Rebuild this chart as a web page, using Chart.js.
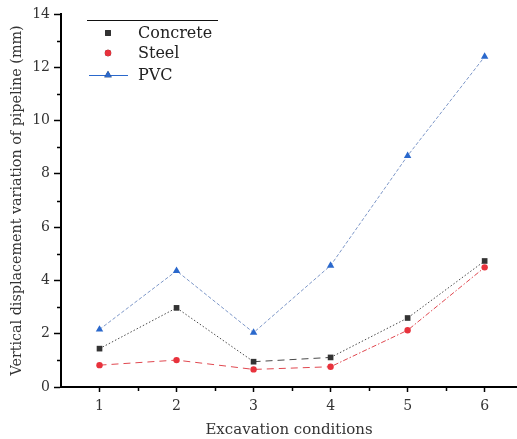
<!DOCTYPE html>
<html>
<head>
<meta charset="utf-8">
<script src="https://cdn.jsdelivr.net/npm/chart.js@4.4.1/dist/chart.umd.min.js"></script>
<style>
  html, body { margin: 0; padding: 0; background: #fff; }
  #wrap { width: 517px; height: 439px; position: relative; }
</style>
</head>
<body>
<div id="wrap"><canvas id="c"></canvas></div>
<script>
// Excavation stages and measured vertical displacement (mm) per pipe material
const conditions = [1, 2, 3, 4, 5, 6];
const concrete = [1.44, 2.97, 0.95, 1.11, 2.59, 4.73];
const steel    = [0.82, 1.01, 0.66, 0.76, 2.13, 4.49];
const pvc      = [2.16, 4.36, 2.04, 4.56, 8.68, 12.40];
const yTickValues = [0, 2, 4, 6, 8, 10, 12, 14];
const seriesNames = ['Concrete', 'Steel', 'PVC'];

const SERIF = '"DejaVu Serif", "Liberation Serif", serif';
const DOTS = [1.5, 2];
const DASHES = [7, 5];

const toPoints = vals => vals.map((v, i) => ({ x: conditions[i], y: v }));

// Short minor ticks halfway between the labelled ones
const minorTicks = {
  id: 'minorTicks',
  afterDraw(chart) {
    const { ctx, scales: { x, y } } = chart;
    ctx.save();
    ctx.strokeStyle = '#000';
    ctx.lineWidth = 1.5;
    ctx.beginPath();
    for (let v = 1; v < 14; v += 2) {
      const py = Math.round(y.getPixelForValue(v)) + 0.5;
      ctx.moveTo(x.left - 4, py); ctx.lineTo(x.left, py);
    }
    for (let v = 1.5; v < x.max; v += 1) {
      const px = Math.round(x.getPixelForValue(v)) + 0.5;
      ctx.moveTo(px, y.bottom); ctx.lineTo(px, y.bottom + 4);
    }
    ctx.stroke();
    ctx.restore();
  }
};

// Legend block in the upper-left of the plot
const insetLegend = {
  id: 'insetLegend',
  afterDraw(chart) {
    const { ctx } = chart;
    const x0 = 87, x1 = 218, top = 20;
    ctx.save();
    ctx.strokeStyle = '#111';
    ctx.lineWidth = 1;
    ctx.beginPath();
    ctx.moveTo(x0, top + 0.5); ctx.lineTo(x1, top + 0.5);
    ctx.stroke();
    const rows = [33, 53, 75];
    chart.data.datasets.forEach((ds, i) => {
      const cy = rows[i];
      const mx = 108;
      if (i === 2) {
        ctx.strokeStyle = ds.pointBackgroundColor;
        ctx.lineWidth = 1.2;
        ctx.setLineDash([]);
        ctx.beginPath();
        ctx.moveTo(89, cy + 0.5); ctx.lineTo(128, cy + 0.5);
        ctx.stroke();
      }
      Chart.helpers.drawPoint(ctx, {
        pointStyle: ds.pointStyle,
        radius: ds.pointRadius,
        rotation: 0,
        borderWidth: 0
      }, mx, cy);
      ctx.fillStyle = ds.pointBackgroundColor;
      ctx.fill();
      ctx.fillStyle = '#222';
      ctx.font = '16px ' + SERIF;
      ctx.textBaseline = 'middle';
      ctx.textAlign = 'left';
      ctx.fillText(seriesNames[i], 138, cy + 1);
    });
    ctx.restore();
  }
};

new Chart(document.getElementById('c'), {
  type: 'line',
  data: {
    datasets: [
      {
        label: seriesNames[0],
        data: toPoints(concrete),
        borderColor: '#4a4a4a',
        borderWidth: 1,
        borderDash: DOTS,
        segment: { borderDash: c => (c.p0DataIndex === 2 ? DASHES : DOTS) },
        pointStyle: 'rect',
        pointRadius: 4,
        pointBackgroundColor: '#333333',
        pointBorderWidth: 0
      },
      {
        label: seriesNames[1],
        data: toPoints(steel),
        borderColor: '#e0474f',
        borderWidth: 1,
        borderDash: DASHES,
        segment: { borderDash: c => (c.p0DataIndex < 3 ? DASHES : [1.5, 2, 5, 2]) },
        pointStyle: 'circle',
        pointRadius: 3.2,
        pointBackgroundColor: '#e8323c',
        pointBorderWidth: 0
      },
      {
        label: seriesNames[2],
        data: toPoints(pvc),
        borderColor: '#7d97c8',
        borderWidth: 1,
        borderDash: [3.5, 2],
        pointStyle: 'triangle',
        pointRadius: 4.3,
        pointBackgroundColor: '#2a68cc',
        pointBorderWidth: 0
      }
    ]
  },
  options: {
    responsive: true,
    maintainAspectRatio: false,
    animation: false,
    events: [],
    layout: { autoPadding: false, padding: { top: 14, right: 0, left: 0, bottom: 0 } },
    plugins: {
      legend: { display: false },
      tooltip: { enabled: false }
    },
    scales: {
      x: {
        type: 'linear',
        min: 0.5,
        max: 6.42,
        afterBuildTicks: s => { s.ticks = conditions.map(v => ({ value: v })); },
        afterFit: s => { s.height = 52; },
        border: { display: true, color: '#000', width: 2 },
        grid: { drawOnChartArea: false, drawTicks: true, tickLength: 5, tickColor: '#000', tickWidth: 1.5 },
        ticks: { color: '#333', padding: 6, font: { family: SERIF, size: 14 } },
        title: {
          display: true,
          text: 'Excavation conditions',
          color: '#333',
          font: { family: SERIF, size: 15 },
          padding: { top: 3, bottom: 0 }
        }
      },
      y: {
        min: 0,
        max: 14,
        afterBuildTicks: s => { s.ticks = yTickValues.map(v => ({ value: v })); },
        afterFit: s => { s.width = 61; },
        border: { display: true, color: '#000', width: 2 },
        grid: { drawOnChartArea: false, drawTicks: true, tickLength: 7, tickColor: '#000', tickWidth: 1.5 },
        ticks: { color: '#333', padding: 4, font: { family: SERIF, size: 14 } },
        title: {
          display: true,
          text: 'Vertical displacement variation of pipeline (mm)',
          color: '#333',
          font: { family: SERIF, size: 14.3 },
          padding: { top: 9, bottom: 0 }
        }
      }
    }
  },
  plugins: [minorTicks, insetLegend]
});
</script>
</body>
</html>
